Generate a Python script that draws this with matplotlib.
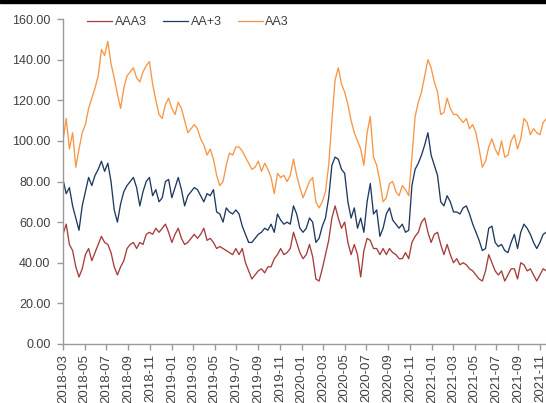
import matplotlib
matplotlib.use('Agg')
import matplotlib.pyplot as plt
import matplotlib.dates as mdates
from matplotlib.ticker import FormatStrFormatter, MultipleLocator
from matplotlib.patches import Rectangle
import pandas as pd

plt.rcParams['font.family'] = ['Liberation Sans', 'DejaVu Sans']

# spread series, sampled every 9 days from 2018-03-01
dates = pd.date_range('2018-03-01', periods=152, freq='9D')

aaa3 = [54, 59, 49, 46, 38, 33, 37, 44, 47, 41, 45, 49, 53, 50, 49, 45, 38, 34, 38, 41,
        47, 49, 50, 47, 50, 49, 54, 55, 54, 57, 55, 57, 59, 55, 50, 54, 57, 52, 49, 50,
        52, 54, 52, 54, 57, 51, 52, 50, 47, 48, 47, 46, 45, 44, 47, 44, 47, 40, 36, 32,
        34, 36, 37, 35, 38, 38, 42, 44, 47, 44, 45, 47, 55, 50, 45, 42, 44, 49, 43, 32,
        31, 37, 44, 51, 62, 68, 62, 57, 60, 50, 44, 49, 44, 33, 46, 52, 51, 47, 47, 44,
        47, 44, 47, 45, 44, 42, 42, 45, 42, 50, 53, 55, 60, 62, 55, 50, 54, 55, 49, 44,
        49, 44, 40, 42, 39, 40, 39, 37, 36, 34, 32, 31, 36, 44, 40, 36, 34, 36, 31, 34,
        37, 37, 32, 40, 39, 36, 37, 34, 31, 34, 37, 36]

aa_plus3 = [81, 74, 77, 68, 62, 56, 68, 75, 82, 78, 83, 86, 90, 85, 89, 80, 66, 60, 69, 75,
            78, 80, 82, 77, 68, 75, 80, 82, 73, 76, 70, 72, 80, 81, 72, 77, 82, 76, 68, 73,
            75, 77, 76, 73, 70, 74, 73, 76, 65, 64, 60, 67, 65, 64, 66, 64, 58, 54, 50, 50,
            52, 54, 55, 57, 56, 59, 55, 64, 61, 59, 60, 59, 68, 64, 57, 55, 57, 62, 60, 50,
            52, 58, 62, 72, 88, 92, 91, 86, 84, 70, 62, 67, 57, 62, 55, 70, 79, 64, 66, 53,
            57, 64, 67, 61, 59, 57, 59, 55, 56, 78, 86, 89, 93, 98, 104, 93, 88, 83, 70, 68,
            73, 70, 65, 65, 64, 67, 68, 64, 59, 55, 51, 46, 47, 57, 58, 50, 48, 49, 46, 45,
            50, 54, 47, 55, 59, 57, 54, 50, 47, 50, 54, 55]

aa3 = [100, 111, 96, 104, 87, 96, 104, 108, 116, 121, 126, 132, 145, 142, 149, 138, 131, 123, 116, 126,
       132, 134, 136, 131, 129, 134, 137, 139, 128, 120, 113, 111, 118, 121, 116, 113, 119, 116, 110, 104,
       106, 108, 106, 101, 98, 93, 96, 91, 83, 78, 80, 88, 94, 93, 97, 97, 95, 92, 89, 86,
       87, 90, 85, 89, 86, 82, 74, 84, 82, 83, 80, 83, 91, 83, 77, 72, 76, 80, 82, 70,
       67, 70, 75, 88, 110, 130, 136, 128, 124, 118, 110, 104, 100, 96, 88, 104, 112, 92, 88, 80,
       70, 72, 79, 80, 75, 73, 78, 76, 73, 92, 112, 119, 124, 132, 140, 136, 129, 124, 113, 114,
       121, 116, 113, 113, 111, 109, 111, 106, 108, 104, 96, 87, 90, 97, 101, 96, 93, 100, 92, 93,
       100, 103, 96, 101, 111, 109, 103, 106, 104, 103, 109, 111]

fig = plt.figure(figsize=(5.46, 4.03), dpi=100)
ax = fig.add_axes([63 / 546, 59 / 403, 1 - 63 / 546, 325 / 403])

ax.plot(dates, aaa3, color='#A63D3B', lw=0.95, label='AAA3')
ax.plot(dates, aa_plus3, color='#1F3A60', lw=0.95, label='AA+3')
ax.plot(dates, aa3, color='#F79646', lw=0.95, label='AA3')

ax.set_ylim(0, 160)
ax.yaxis.set_major_locator(MultipleLocator(20))
ax.yaxis.set_major_formatter(FormatStrFormatter('%.2f'))
ax.set_xlim(pd.Timestamp('2018-03-01'), pd.Timestamp('2021-11-18'))
ax.xaxis.set_major_locator(mdates.MonthLocator(bymonth=[1, 3, 5, 7, 9, 11]))
ax.xaxis.set_major_formatter(mdates.DateFormatter('%Y-%m'))

for s in ['top', 'right']:
    ax.spines[s].set_visible(False)
for s in ['left', 'bottom']:
    ax.spines[s].set_color('#9a9a9a')
    ax.spines[s].set_linewidth(1.0)
ax.tick_params(axis='both', colors='#9a9a9a', labelcolor='#404040', length=4, width=1.0,
               labelsize=9)
ax.tick_params(axis='x', labelrotation=90, pad=3, labelsize=9.5)
ax.tick_params(axis='y', pad=5)

leg = fig.legend(loc='center left', bbox_to_anchor=(76 / 546, 1 - 22 / 403), ncol=3,
                 frameon=False, fontsize=9, handlelength=2.0, handletextpad=0.2,
                 columnspacing=1.3, labelcolor='#404040')
for line in leg.get_lines():
    line.set_linewidth(0.9)

# dark strip along the top edge
fig.patches.append(Rectangle((0, 1 - 3 / 403), 1, 3 / 403, transform=fig.transFigure,
                             color='black', zorder=10))

fig.savefig('out.png', dpi=100)
